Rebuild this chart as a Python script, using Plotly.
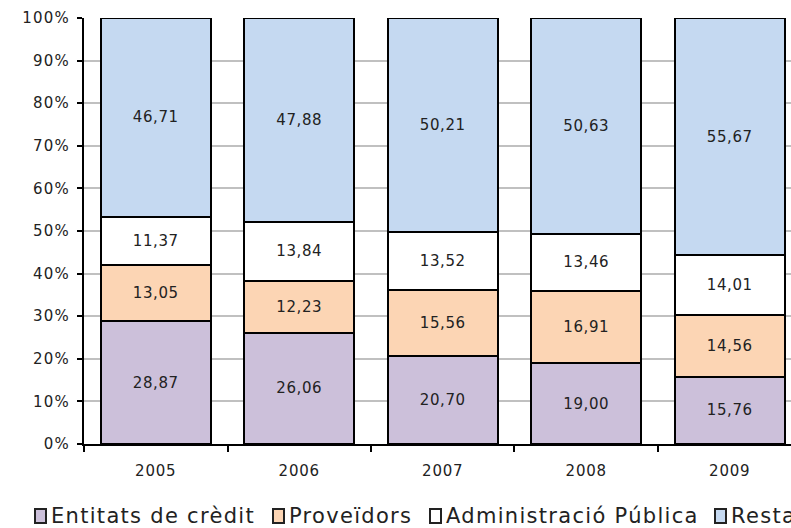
import plotly.graph_objects as go

years = ["2005", "2006", "2007", "2008", "2009"]
entitats = [28.87, 26.06, 20.70, 19.00, 15.76]
proveidors = [13.05, 12.23, 15.56, 16.91, 14.56]
administracio = [11.37, 13.84, 13.52, 13.46, 14.01]
resta = [46.71, 47.88, 50.21, 50.63, 55.67]
y_ticks = [0, 10, 20, 30, 40, 50, 60, 70, 80, 90, 100]

names = ["Entitats de crèdit", "Proveïdors", "Administració Pública", "Resta"]
colors = ["#CCC0DA", "#FCD5B4", "#FFFFFF", "#C5D9F1"]
values = [entitats, proveidors, administracio, resta]

W, H = 791, 528
L, R, T, B = 84, 0, 18, 84
PW, PH = W - L - R, H - T - B


def sp(s, ls):
    return f"<span style='letter-spacing:{ls}px'>{s}</span>"


fig = go.Figure()
for name, vals, col in zip(names, values, colors):
    fig.add_trace(go.Bar(
        x=years, y=vals, name=name,
        marker=dict(color=col, line=dict(color="black", width=2)),
        text=[sp(f"{v:.2f}".replace(".", ","), 0.6) for v in vals],
        textposition="inside", insidetextanchor="middle",
        textfont=dict(family="DejaVu Sans", size=15, color="#222222"),
        width=0.765, showlegend=False,
    ))

# custom legend (squares + labels) drawn in the bottom margin
leg_sq_left = [35, 273, 430, 715]
shapes = []
annotations = []
for (name, col, px) in zip(names, colors, leg_sq_left):
    x0 = (px - L) / PW
    x1 = (px + 11 - L) / PW
    y0 = (T + PH - 523) / PH
    y1 = (T + PH - 509) / PH
    shapes.append(dict(type="rect", xref="paper", yref="paper", x0=x0, x1=x1, y0=y0, y1=y1,
                       fillcolor=col, line=dict(color="#222222", width=2)))
    annotations.append(dict(xref="paper", yref="paper", x=(px + 14 - L) / PW,
                            y=(T + PH - 516) / PH, xanchor="left", yanchor="middle",
                            text=sp(name, 1.3), showarrow=False,
                            font=dict(family="DejaVu Sans", size=21, color="#222222")))

fig.update_layout(
    barmode="stack",
    width=W, height=H,
    margin=dict(l=L, r=R, t=T, b=B, autoexpand=False),
    plot_bgcolor="white", paper_bgcolor="white",
    font=dict(family="DejaVu Sans", size=15, color="#222222"),
    showlegend=False,
    shapes=shapes, annotations=annotations,
)
fig.update_xaxes(
    range=[-0.5, 4.427], showline=True, linecolor="black", linewidth=2,
    ticks="outside", tickson="boundaries", ticklen=6, tickcolor="black", tickwidth=2,
    tickvals=years, ticktext=[sp(y, 0.8) for y in years],
    ticklabelstandoff=12, showgrid=False, automargin=False,
)
fig.update_yaxes(
    range=[0, 100], showline=True, linecolor="black", linewidth=2,
    ticks="outside", ticklen=5, tickcolor="black", tickwidth=2,
    tickvals=y_ticks, ticktext=[sp(f"{v}%", 1.2) for v in y_ticks],
    showgrid=True, gridcolor="#C0C0C0", gridwidth=1.5, zeroline=False, automargin=False,
    ticklabelstandoff=4,
)

fig.write_html(
    "out.html",
    config={"displayModeBar": False},
    post_script="document.body.style.margin='0';document.body.style.overflow='hidden';",
)
